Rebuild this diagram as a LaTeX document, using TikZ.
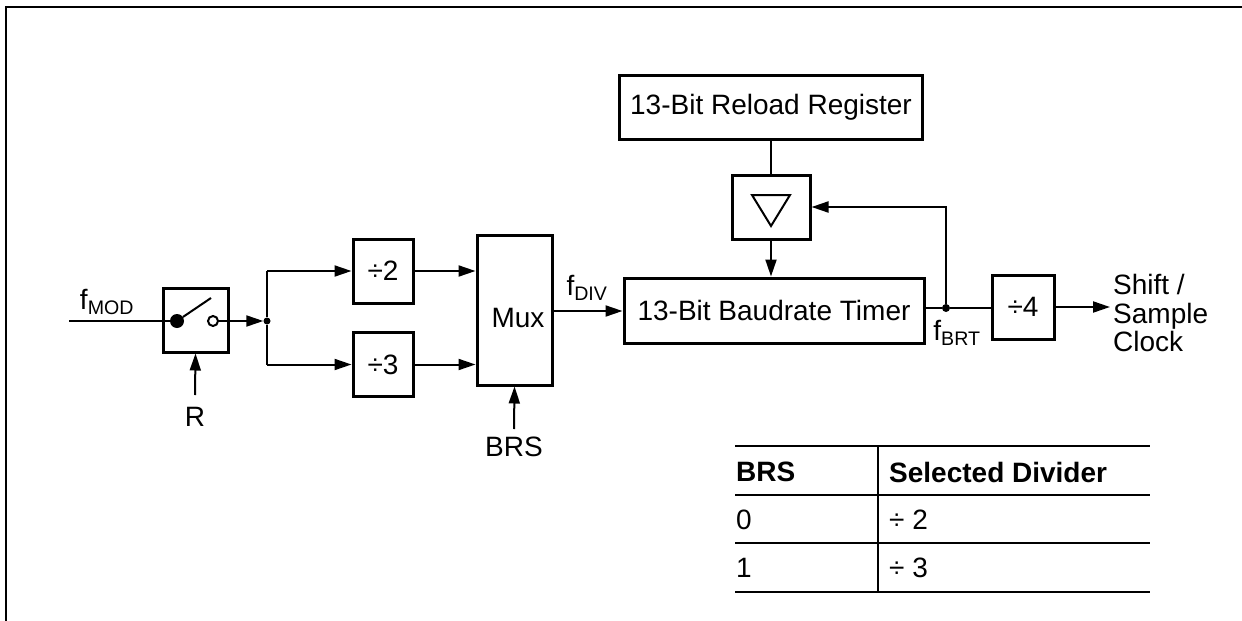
\documentclass[tikz,border=0pt]{standalone}
\usepackage{fontspec}
\setmainfont{Liberation Sans}
\usetikzlibrary{arrows.meta,positioning}
\newcommand{\lo}[1]{\textsubscript{#1}}

\begin{document}
\begin{tikzpicture}[
    x=1pt, y=-1pt,
    font=\fontsize{28}{30}\selectfont,
    box/.style={draw, line width=3pt, minimum width=62pt, minimum height=64pt, inner sep=0pt, align=center},
    wire/.style={line width=2pt, -{Triangle[length=17pt,width=11pt]}},
    plain/.style={line width=2pt},
    dot/.style={circle, fill, inner sep=0pt, minimum size=8pt},
    rule/.style={line width=1.3pt},
    cell/.style={anchor=west, inner sep=0pt}
  ]
    \useasboundingbox (0,0) rectangle (1242,621);
    % frame
    \draw[plain] (6,621) -- (6,7) -- (1242,7);

    % switch
    \node[box, minimum width=65pt] (sw) at (195.5,320) {};
    \coordinate (in) at (69,321);
    \node[circle, fill, inner sep=0pt, minimum size=14pt] (pin) at (177,321) {};
    \node[circle, draw, line width=2pt, inner sep=0pt, minimum size=10pt] (pout) at (213,321) {};
    \draw[plain] (in) -- (pin);
    \draw[plain] (pin) -- (211,298);
    \node (fmod) at (107,302) {f\lo{MOD}};
    \node (r) at (195,417) {R};
    \coordinate (rin) at (195,395);
    \draw[wire] (rin) -- (sw.south);

    % dividers and mux
    \node[dot, minimum size=7pt] (j1) at (267,321) {};
    \node[box, minimum width=60pt] (div2) at (383,271) {÷2};
    \node[box, minimum width=60pt] (div3) at (383,364.5) {÷3};
    \node[box, minimum width=75pt, minimum height=150pt] (mux) at (514.5,310) {\hspace*{7pt}\raisebox{-8pt}[\height][0pt]{Mux}};
    \draw[wire] (pout) -- (j1);
    \draw[plain] (j1) -- (j1 |- div2.west);
    \draw[plain] (j1) -- (j1 |- div3.west);
    \draw[wire] (j1 |- div2.west) -- (div2.west);
    \draw[wire] (j1 |- div3.west) -- (div3.west);
    \draw[wire] (div2.east) -- (div2.east -| mux.west);
    \draw[wire] (div3.east) -- (div3.east -| mux.west);
    \coordinate (brsin) at (514,429);
    \node (brs) at (514,447) {BRS};
    \draw[wire] (brsin) -- (mux.south);

    % timer and reload
    \node[box, minimum width=300pt, minimum height=65pt] (timer) at (774,310.5) {13-Bit Baudrate Timer};
    \node (fdiv) at (587,288) {f\lo{DIV}};
    \draw[wire] (mux.east |- 0,311) -- (timer.west |- 0,311);
    \node[box, minimum width=303pt] (reg) at (771,107) {13-Bit Reload Register};
    \node[box, minimum width=78pt] (tri) at (771,207) {};
    \draw[line width=2pt, line join=miter] (752,195) -- (790,195) -- (771,226) -- cycle;
    \draw[plain] (reg.south) -- (tri.north);
    \draw[wire] (tri.south) -- (tri.south |- timer.north);

    % output
    \node[dot] (j2) at (946,308) {};
    \node[box] (div4) at (1023,307) {÷4};
    \node (fbrt) at (957,333) {f\lo{BRT}};
    \draw[plain] (timer.east |- j2) -- (j2);
    \draw[plain] (j2) -- (div4.west |- j2);
    \draw[wire] (j2) |- (tri.east);
    \coordinate (out) at (1110,307);
    \draw[wire] (div4.east) -- (out);
    \node[anchor=west, align=left, inner sep=0pt, font=\fontsize{28}{28.5}\selectfont] (clk) at (1113,313) {Shift /\\Sample\\Clock};

    % table
    \draw[rule] (735,446) -- (1150,446);
    \draw[rule] (735,495) -- (1150,495);
    \draw[rule] (735,543) -- (1150,543);
    \draw[rule] (735,592) -- (1150,592);
    \draw[rule] (878,446) -- (878,592);
    \node[cell] (hbrs) at (736,472) {\bfseries BRS};
    \node[cell] (hsel) at (889,472) {\bfseries Selected Divider};
    \node[cell] (a0) at (736,520) {0};
    \node[cell] (b0) at (889,520) {÷ 2};
    \node[cell] (a1) at (736,568) {1};
    \node[cell] (b1) at (889,568) {÷ 3};
  \end{tikzpicture}
\end{document}
